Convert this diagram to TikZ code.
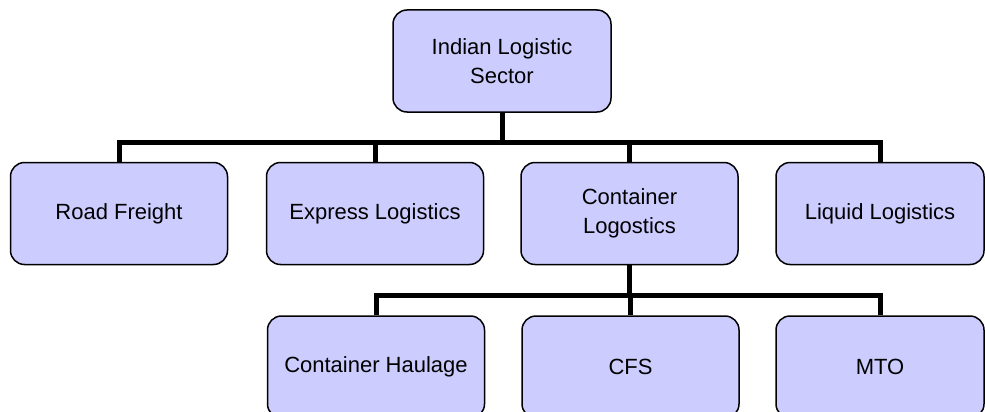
\documentclass[tikz,border=0pt]{standalone}
\usepackage{fontspec}
\setmainfont{Liberation Sans}
\definecolor{boxfill}{RGB}{204,204,255}

\begin{document}
\begin{tikzpicture}[x=1pt, y=-1pt,
  unit/.style={draw=black, line width=1.5pt, fill=boxfill, rounded corners=14pt,
    minimum width=217pt, minimum height=102pt, inner sep=0pt, align=center,
    font=\fontsize{22}{28.5}\selectfont},
  link/.style={line width=5pt, line join=miter}]
  \useasboundingbox (0,0) rectangle (985,412);
  \clip (0,0) rectangle (985,412);

  \node[unit, minimum width=218pt] (sector) at (502,61) {Indian Logistic\\Sector};

  \node[unit] (road) at (119,213.5) {Road Freight};
  \node[unit] (express) at (375,213.5) {Express Logistics};
  \node[unit] (container) at (629.5,213.5) {Container\\Logostics};
  \node[unit, minimum width=208pt] (liquid) at (880,213.5) {Liquid Logistics};

  \node[unit] (haulage) at (376,367) {Container Haulage};
  \node[unit] (cfs) at (630.5,367) {CFS};
  \node[unit, minimum width=208pt] (mto) at (880,367) {MTO};

  % sector to its branches
  \foreach \n in {road,express,container,liquid}
    \draw[link] (sector.south) -- ++(0,30) -| (\n.north);

  % container branches
  \foreach \n in {haulage,cfs,mto}
    \draw[link] (container.south) -- ++(0,30) -| (\n.north);
\end{tikzpicture}
\end{document}
